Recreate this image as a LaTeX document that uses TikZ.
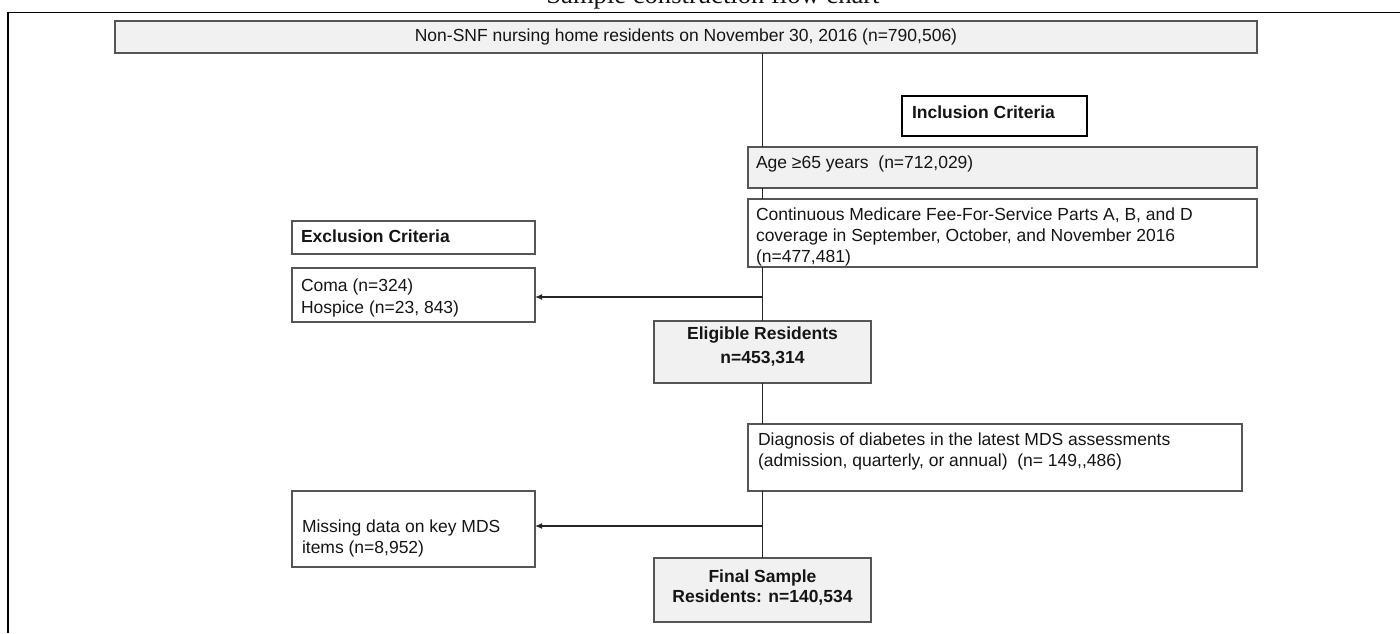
\documentclass[tikz,border=0pt]{standalone}
\usepackage{fontspec}
\setmainfont{Liberation Sans}
\newfontfamily\titlefont{Liberation Serif}
\usetikzlibrary{arrows.meta}
\definecolor{boxfill}{HTML}{F1F1F1}
\definecolor{edge}{HTML}{555555}
\definecolor{ink}{HTML}{151515}
\begin{document}
\begin{tikzpicture}[x=1pt,y=-1pt,
  box/.style={draw=edge, line width=1.3pt, anchor=north west, inner sep=0pt, outer sep=0pt},
  gbox/.style={box, fill=boxfill, line width=1.7pt},
  hbox/.style={box, draw=black, line width=2.4pt},
  txt/.style={inner sep=0pt, outer sep=0pt, text=ink, font=\fontsize{17.5}{21}\selectfont},
  btxt/.style={txt, font=\fontsize{17.5}{21}\selectfont\bfseries},
  link/.style={draw=black!85, line width=1.3pt},
  arr/.style={link, -{Latex[length=7pt,width=6pt]}}]
\useasboundingbox (0,0) rectangle (1400,633);
% title, cut by the top edge as in the reference
\node[anchor=base, inner sep=0pt, text=ink, font=\titlefont\fontsize{26.6}{30}\selectfont] (title) at (713,3) {Sample construction flow chart};
% frame
\coordinate (fTR) at (1400,12.5);
\coordinate (fTL) at (8,12.5);
\coordinate (fBL) at (8,633);
\draw[line width=1.5pt] (fTR) -- (fTL) -- (fBL);
% boxes
\node[gbox, minimum width=1142pt, minimum height=32pt] (top) at (115,21) {};
\node[hbox, minimum width=185pt, minimum height=40pt] (incl) at (902,96) {};
\node[gbox, minimum width=509pt, minimum height=41pt] (age) at (748,147) {};
\node[box, minimum width=509pt, minimum height=68pt] (cont) at (748,199) {};
\node[box, minimum width=243pt, minimum height=33pt] (excl) at (292,221) {};
\node[box, minimum width=243pt, minimum height=54pt] (coma) at (292,268) {};
\node[gbox, minimum width=217pt, minimum height=62pt] (elig) at (654,321) {};
\node[box, minimum width=494pt, minimum height=67pt] (diag) at (748,424) {};
\node[box, minimum width=243pt, minimum height=76pt] (miss) at (292,491) {};
\node[gbox, minimum width=217pt, minimum height=64pt] (final) at (654,558) {};
% texts
\node[txt, anchor=base] (topT) at (686,41) {Non-SNF nursing home residents on November 30, 2016 (n=790,506)};
\node[btxt, anchor=base west] (inclT) at (912,118) {Inclusion Criteria};
\node[txt, anchor=base west] (ageT) at (756,168) {Age ≥65 years\ \ (n=712,029)};
\node[txt, anchor=base west] (contT1) at (756,220) {Continuous Medicare Fee-For-Service Parts A, B, and D};
\node[txt, anchor=base west] (contT2) at (756,241) {coverage in September, October, and November 2016};
\node[txt, anchor=base west] (contT3) at (756,262) {(n=477,481)};
\node[btxt, anchor=base west] (exclT) at (301,242) {Exclusion Criteria};
\node[txt, anchor=base west] (comaT1) at (301,291) {Coma (n=324)};
\node[txt, anchor=base west] (comaT2) at (301,313) {Hospice (n=23, 843)};
\node[btxt, anchor=base] (eligT1) at (762.5,339) {Eligible Residents};
\node[btxt, anchor=base] (eligT2) at (762.5,363) {n=453,314};
\node[txt, anchor=base west] (diagT1) at (758,445) {Diagnosis of diabetes in the latest MDS assessments};
\node[txt, anchor=base west] (diagT2) at (758,466) {(admission, quarterly, or annual)\ \ (n= 149,\kern0pt,486)};
\node[txt, anchor=base west] (missT1) at (302,532) {Missing data on key MDS};
\node[txt, anchor=base west] (missT2) at (302,553) {items (n=8,952)};
\node[btxt, anchor=base] (finalT1) at (762.5,582) {Final Sample};
\node[btxt, anchor=base] (finalT2) at (762.5,602) {Residents: n=140,534};
% connectors
\draw[link] (top.south -| elig.north) -- (age.north -| elig.north);
\draw[link] (age.south -| elig.north) -- (cont.north -| elig.north);
\draw[link] (cont.south -| elig.north) -- (elig.north);
\coordinate (j1) at (762.5,297);
\draw[arr] (j1) -- (j1 -| coma.east);
\draw[link] (elig.south) -- (diag.north -| elig.south);
\draw[link] (diag.south -| final.north) -- (final.north);
\coordinate (j2) at (762.5,526);
\draw[arr] (j2) -- (j2 -| miss.east);
\end{tikzpicture}
\end{document}
